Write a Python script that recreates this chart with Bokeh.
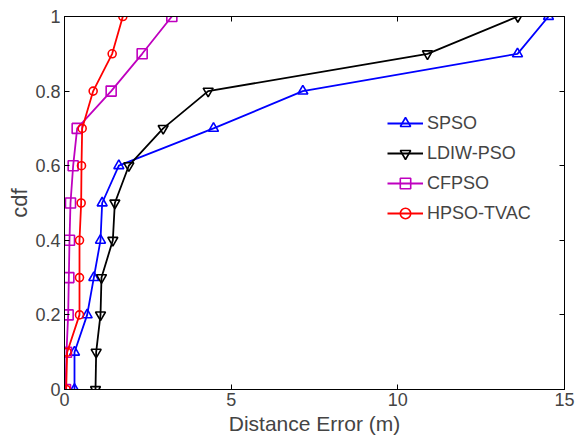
from bokeh.plotting import figure
from bokeh.models import FixedTicker, LinearAxis, Range1d, Legend, LegendItem
from bokeh.embed import file_html
from bokeh.resources import INLINE

cdf = [0, 0.1, 0.2, 0.3, 0.4, 0.5, 0.6, 0.7, 0.8, 0.9, 1.0]
spso = [0.30, 0.30, 0.68, 0.88, 1.08, 1.13, 1.63, 4.47, 7.15, 13.59, 14.52]
ldiw = [0.93, 0.95, 1.08, 1.11, 1.45, 1.51, 1.93, 2.96, 4.31, 10.89, 13.6]
cfpso = [0.03, 0.06, 0.11, 0.13, 0.15, 0.18, 0.26, 0.38, 1.40, 2.33, 3.22]
hpso = [0.05, 0.08, 0.45, 0.45, 0.45, 0.50, 0.51, 0.53, 0.86, 1.43, 1.75]

names = ["SPSO", "LDIW-PSO", "CFPSO", "HPSO-TVAC"]
colors = ["#0000ff", "#000000", "#bf00bf", "#ff0000"]
markers = ["triangle", "inverted_triangle", "square", "circle"]
sizes = [10, 10, 10, 8]
series = [spso, ldiw, cfpso, hpso]
x_ticks = [0, 5, 10, 15]
y_ticks = [0, 0.2, 0.4, 0.6, 0.8, 1.0]

FONT = "Liberation Sans"

p = figure(width=576, height=441, output_backend="svg", toolbar_location=None,
           x_range=Range1d(0, 15), y_range=Range1d(0, 1),
           min_border_left=64, min_border_right=12, min_border_top=16, min_border_bottom=52)
p.grid.visible = False
p.outline_line_color = "black"
p.outline_line_width = 1
p.background_fill_color = "white"

items = []
for name, col, mk, sz, xs in zip(names, colors, markers, sizes, series):
    l = p.line(xs, cdf, line_color=col, line_width=1.8)
    s = p.scatter(xs, cdf, marker=mk, size=sz, line_color=col, line_width=1.6, fill_alpha=0)
    items.append(LegendItem(label=name, renderers=[l, s]))

legend = Legend(items=items, location=(323, 163), border_line_alpha=0,
                background_fill_alpha=0, label_text_font=FONT, label_text_font_size="18px",
                spacing=4, glyph_width=36, glyph_height=26, label_height=26,
                label_standoff=4, padding=0, margin=0)
p.add_layout(legend, "center")

for ax in [p.xaxis[0], p.yaxis[0]]:
    ax.major_tick_in = 5
    ax.major_tick_out = 0
    ax.minor_tick_in = 0
    ax.minor_tick_out = 0
    ax.major_label_text_font = FONT
    ax.major_label_text_font_size = "18px"
    ax.axis_label_text_font = FONT
    ax.axis_label_text_font_size = "21px"
    ax.axis_label_text_font_style = "normal"
    ax.axis_line_color = "black"

p.xaxis[0].ticker = FixedTicker(ticks=x_ticks)
p.yaxis[0].ticker = FixedTicker(ticks=y_ticks)
p.yaxis[0].major_label_overrides = {0: "0", 1: "1"}
p.xaxis[0].axis_label = "Distance Error (m)"
p.yaxis[0].axis_label = "cdf"
p.yaxis[0].axis_label_text_font_size = "22px"
p.xaxis[0].axis_label_standoff = 3
p.yaxis[0].axis_label_standoff = 0
p.xaxis[0].major_label_standoff = 3
p.yaxis[0].major_label_standoff = 4

top = LinearAxis(ticker=FixedTicker(ticks=x_ticks), major_label_text_font_size="0px",
                 major_tick_in=5, major_tick_out=0, minor_tick_in=0, minor_tick_out=0)
right = LinearAxis(ticker=FixedTicker(ticks=y_ticks), major_label_text_font_size="0px",
                   major_tick_in=5, major_tick_out=0, minor_tick_in=0, minor_tick_out=0)
p.add_layout(top, "above")
p.add_layout(right, "right")

open("out.html", "w").write(file_html(p, INLINE))
